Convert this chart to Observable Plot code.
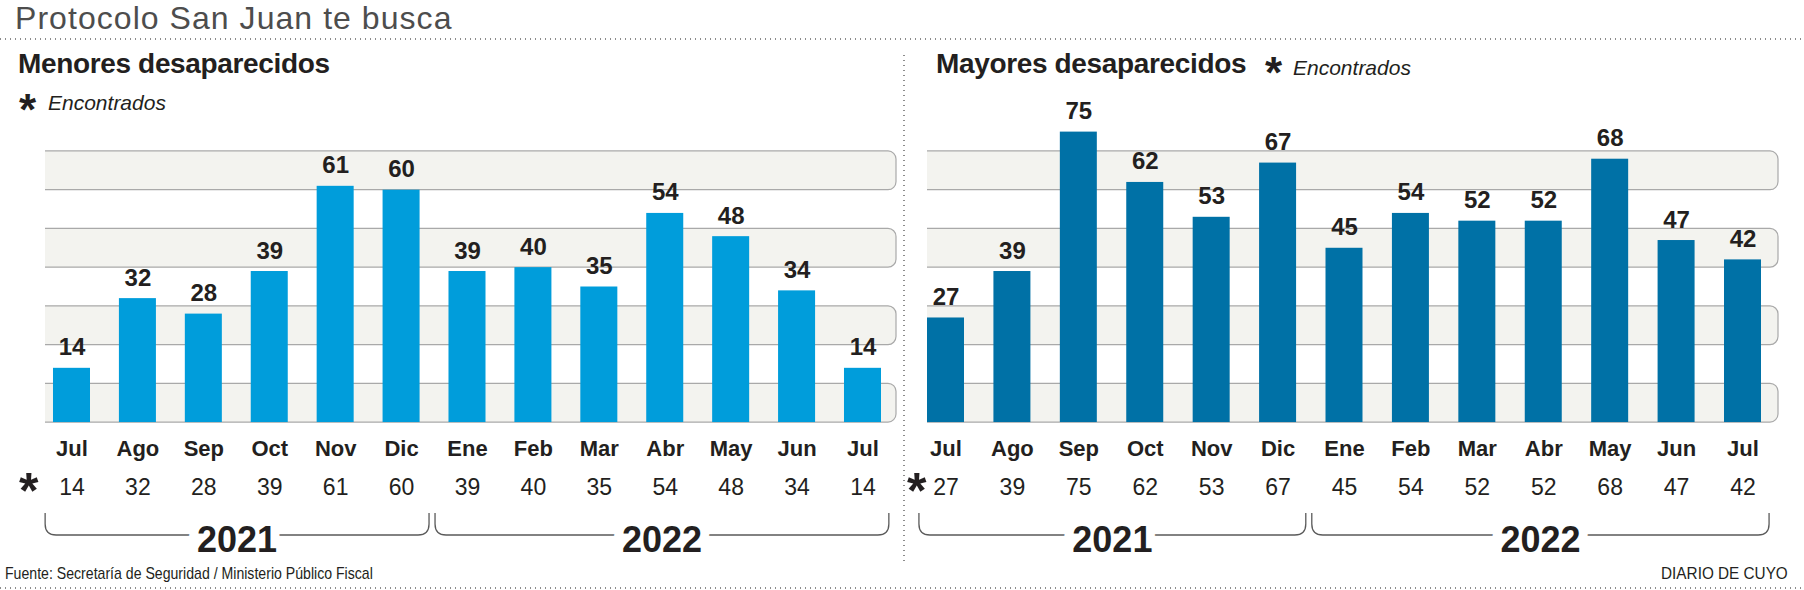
<!DOCTYPE html>
<html><head><meta charset="utf-8">
<script src="https://cdn.jsdelivr.net/npm/d3@7"></script>
<script src="https://cdn.jsdelivr.net/npm/@observablehq/plot@0.6"></script>
<style>
html,body{margin:0;padding:0;background:#fff;}
#page{position:relative;width:1804px;height:590px;overflow:hidden;font-family:"Liberation Sans",Arial,Helvetica,sans-serif;color:#231f20;}
.t{position:absolute;white-space:nowrap;line-height:1;z-index:2;}
.hdots{position:absolute;left:0;width:1804px;height:1.5px;background-image:linear-gradient(to right,#8c8c8c 0,#8c8c8c 1.5px,transparent 1.5px);background-size:5px 1.5px;}
.vdots{position:absolute;width:1.5px;background-image:linear-gradient(to bottom,#8c8c8c 0,#8c8c8c 1.5px,transparent 1.5px);background-size:1.5px 5px;}
.chart{position:absolute;top:80px;z-index:1;}
.chart svg{max-width:none !important;}
</style></head><body>
<div id="page">
  <div class="t" style="left:15px;top:2px;font-size:32px;letter-spacing:1.05px;color:#4d4d4d;">Protocolo San Juan te busca</div>
  <div class="hdots" style="top:38px"></div>
  <div class="vdots" style="left:903px;top:55px;height:508px"></div>

  <div class="t" style="left:18px;top:50px;font-size:28px;font-weight:bold;letter-spacing:-0.35px;">Menores desaparecidos</div>
  <div class="t" style="left:19px;top:88px;font-size:44px;font-weight:bold;">*</div>
  <div class="t" style="left:48px;top:92px;font-size:21px;font-style:italic;">Encontrados</div>

  <div class="t" style="left:936px;top:50px;font-size:28px;font-weight:bold;letter-spacing:-0.35px;">Mayores desaparecidos</div>
  <div class="t" style="left:1265px;top:51px;font-size:44px;font-weight:bold;">*</div>
  <div class="t" style="left:1293px;top:57px;font-size:21px;font-style:italic;">Encontrados</div>

  <div id="left" class="chart" style="left:0px"></div>
  <div id="right" class="chart" style="left:903px"></div>

  <div class="t" style="left:5px;top:565px;font-size:17px;transform:scaleX(0.83);transform-origin:0 0;">Fuente: Secretaría de Seguridad / Ministerio Público Fiscal</div>
  <div class="t" style="right:16px;top:565px;font-size:17px;transform:scaleX(0.9);transform-origin:100% 0;">DIARIO DE CUYO</div>
  <div class="hdots" style="top:587px"></div>
</div>
<script>
// ---- data ----
const periods = ["2021-07","2021-08","2021-09","2021-10","2021-11","2021-12","2022-01","2022-02","2022-03","2022-04","2022-05","2022-06","2022-07"];
const months = ["Jul","Ago","Sep","Oct","Nov","Dic","Ene","Feb","Mar","Abr","May","Jun","Jul"];
const periodYears = ["2021","2021","2021","2021","2021","2021","2022","2022","2022","2022","2022","2022","2022"];
const years = ["2021","2022"];
const menores = [14,32,28,39,61,60,39,40,35,54,48,34,14];
const menoresEncontrados = [14,32,28,39,61,60,39,40,35,54,48,34,14];
const mayores = [27,39,75,62,53,67,45,54,52,52,68,47,42];
const mayoresEncontrados = [27,39,75,62,53,67,45,54,52,52,68,47,42];
const bandStarts = [0,20,40,60];
const bandSize = 10;

const INK = "#231f20";
const NS = "http://www.w3.org/2000/svg";

function bracketMark(index, scales, values, dimensions) {
  const x = scales.x;
  const bw = typeof x.bandwidth === "function" ? x.bandwidth() : 0;
  const step = typeof x.step === "function" ? x.step() : bw;
  const base = dimensions.height - dimensions.marginBottom;
  const yTop = base + 90, yBot = base + 112, r = 11;
  const g = document.createElementNS(NS, "g");
  const groups = years.map(yr => periods.filter((p, i) => periodYears[i] === yr));
  const centers = groups.map(ps => [x(ps[0]) + bw / 2, x(ps[ps.length - 1]) + bw / 2]);
  centers.forEach(([c0, c1], k) => {
    const left = k === 0 ? c0 - 0.4 * step : (centers[k - 1][1] + c0) / 2 + 1;
    const right = k === centers.length - 1 ? c1 + 0.4 * step : (c1 + centers[k + 1][0]) / 2 - 5;
    const path = document.createElementNS(NS, "path");
    path.setAttribute("d", `M${left},${yTop}V${yBot - r}Q${left},${yBot} ${left + r},${yBot}H${right - r}Q${right},${yBot} ${right},${yBot - r}V${yTop}`);
    path.setAttribute("fill", "none");
    path.setAttribute("stroke", "#5a5a5a");
    path.setAttribute("stroke-width", "1.3");
    g.appendChild(path);
    const t = document.createElementNS(NS, "text");
    t.setAttribute("x", (left + right) / 2);
    t.setAttribute("y", base + 129);
    t.setAttribute("text-anchor", "middle");
    t.setAttribute("font-size", "36");
    t.setAttribute("font-weight", "bold");
    t.setAttribute("fill", INK);
    t.setAttribute("stroke", "white");
    t.setAttribute("stroke-width", "18");
    t.setAttribute("paint-order", "stroke");
    t.textContent = years[k];
    g.appendChild(t);
  });
  return g;
}

function panel({values, found, color, width, marginLeft, marginRight, paddingInner, paddingOuter, align, starDx}) {
  const rows = periods.map((p, i) => ({period: p, month: months[i], value: values[i], found: found[i]}));
  return Plot.plot({
    width, height: 500,
    marginTop: 70, marginBottom: 157, marginLeft, marginRight,
    style: {background: "transparent", fontFamily: "'Liberation Sans', Arial, Helvetica, sans-serif", overflow: "visible", color: INK},
    x: {type: "band", domain: periods, paddingInner, paddingOuter, align, round: false, axis: null},
    y: {domain: [-0.25, 70.25], axis: null},
    marks: [
      Plot.rect(bandStarts, {y1: d => d, y2: d => d + bandSize, fill: "#f3f3ef", stroke: "#a9a9a9", strokeWidth: 1.2, rx: 8, insetLeft: -16, insetRight: 1, clip: true}),
      Plot.barY(rows, {x: "period", y: "value", fill: color}),
      Plot.text(rows, {x: "period", y: "value", text: d => String(d.value), dy: -13, lineAnchor: "bottom", fontSize: 24, fontWeight: "bold", fill: INK}),
      Plot.text(rows, {x: "period", text: "month", frameAnchor: "bottom", dy: 32, lineAnchor: "bottom", fontSize: 22, fontWeight: "bold", fill: INK}),
      Plot.text(rows, {x: "period", text: d => String(d.found), frameAnchor: "bottom", dy: 71, lineAnchor: "bottom", fontSize: 23, fill: INK}),
      Plot.text(["*"], {text: d => d, frameAnchor: "bottom-left", dx: starDx, dy: 84, textAnchor: "end", lineAnchor: "bottom", fontSize: 50, fontWeight: "bold", fill: INK}),
      bracketMark
    ]
  });
}

document.getElementById("left").appendChild(panel({
  values: menores, found: menoresEncontrados, color: "#009ddb",
  width: 903, marginLeft: 45, marginRight: 6,
  paddingInner: 0.4385, paddingOuter: 0.182, align: 0.333, starDx: -7
}));
document.getElementById("right").appendChild(panel({
  values: mayores, found: mayoresEncontrados, color: "#0071a6",
  width: 901, marginLeft: 24, marginRight: 25,
  paddingInner: 0.443, paddingOuter: 0.1355, align: 0, starDx: -1
}));
</script>
</body></html>
